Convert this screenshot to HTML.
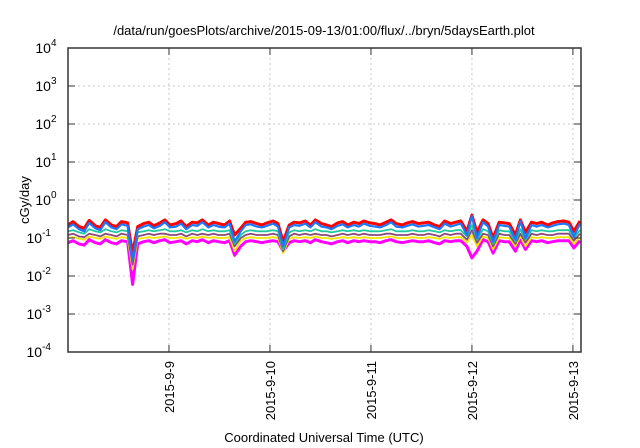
<!DOCTYPE html>
<html><head><meta charset="utf-8"><style>
body{margin:0;background:#fff;}
svg{display:block;font-family:"Liberation Sans",sans-serif;}
</style></head><body>
<svg id="chart" width="640" height="448" viewBox="0 0 640 448">
<rect width="640" height="448" fill="#fff"/>
<text x="324" y="35" text-anchor="middle" font-size="13" fill="#000">/data/run/goesPlots/archive/2015-09-13/01:00/flux/../bryn/5daysEarth.plot</text>
<text transform="translate(29,200) rotate(-90)" text-anchor="middle" font-size="13">cGy/day</text>
<text x="324" y="442" text-anchor="middle" font-size="13">Coordinated Universal Time (UTC)</text>
<g id="grid"></g><g id="series"></g><g id="axes"></g>
</svg>
<script>
const times=[8.00,8.05,8.11,8.16,8.21,8.27,8.32,8.37,8.43,8.48,8.53,8.59,8.64,8.69,8.75,8.80,8.85,8.91,8.96,9.01,9.07,9.12,9.17,9.23,9.28,9.33,9.39,9.44,9.49,9.55,9.60,9.65,9.71,9.76,9.81,9.87,9.92,9.97,10.03,10.08,10.13,10.19,10.24,10.29,10.35,10.40,10.45,10.51,10.56,10.61,10.67,10.72,10.77,10.83,10.88,10.93,10.99,11.04,11.09,11.15,11.20,11.25,11.31,11.36,11.41,11.47,11.52,11.57,11.63,11.68,11.73,11.79,11.84,11.89,11.95,12.00,12.05,12.11,12.16,12.21,12.27,12.32,12.37,12.43,12.48,12.53,12.59,12.64,12.69,12.75,12.80,12.85,12.91,12.96,13.01,13.07];
const xTicks=[9,10,11,12,13];
const xTickLabels=["2015-9-9","2015-9-10","2015-9-11","2015-9-12","2015-9-13"];
const yTickExps=[-4,-3,-2,-1,0,1,2,3,4];
const red=[0.22,0.27,0.20,0.18,0.29,0.21,0.19,0.30, 0.22,0.20,0.27,0.25,0.04,0.20,0.24,0.26, 0.21,0.25,0.30,0.22,0.24,0.28,0.20,0.26, 0.25,0.30,0.22,0.26,0.24,0.22,0.28,0.12, 0.18,0.26,0.27,0.24,0.22,0.25,0.28,0.24, 0.08,0.22,0.26,0.25,0.28,0.22,0.30,0.24, 0.22,0.20,0.25,0.27,0.22,0.26,0.24,0.28, 0.25,0.24,0.22,0.26,0.30,0.24,0.22,0.25, 0.27,0.24,0.25,0.26,0.22,0.20,0.28,0.24, 0.26,0.28,0.15,0.40,0.14,0.30,0.24,0.10, 0.26,0.25,0.24,0.12,0.30,0.14,0.26,0.24, 0.26,0.22,0.25,0.27,0.28,0.26,0.15,0.28];
const blue=[0.19,0.23,0.17,0.15,0.25,0.18,0.16,0.26, 0.19,0.17,0.23,0.21,0.025,0.17,0.20,0.22, 0.18,0.21,0.26,0.19,0.20,0.24,0.17,0.22, 0.21,0.26,0.19,0.22,0.20,0.19,0.24,0.08, 0.15,0.22,0.23,0.20,0.19,0.21,0.24,0.20, 0.06,0.19,0.22,0.21,0.24,0.19,0.26,0.20, 0.19,0.17,0.21,0.23,0.19,0.22,0.20,0.24, 0.21,0.20,0.19,0.22,0.26,0.20,0.19,0.21, 0.23,0.20,0.21,0.22,0.19,0.17,0.24,0.20, 0.22,0.24,0.12,0.38,0.10,0.26,0.20,0.08, 0.22,0.21,0.20,0.09,0.28,0.10,0.22,0.20, 0.22,0.19,0.21,0.23,0.24,0.22,0.11,0.24];
const teal=[0.15,0.16,0.14,0.13,0.17,0.15,0.14,0.17, 0.15,0.14,0.16,0.15,0.025,0.14,0.15,0.16, 0.15,0.16,0.17,0.15,0.15,0.16,0.14,0.16, 0.15,0.17,0.15,0.16,0.15,0.15,0.16,0.07, 0.12,0.15,0.16,0.15,0.15,0.15,0.16,0.15, 0.05,0.14,0.16,0.15,0.16,0.15,0.17,0.15, 0.15,0.14,0.15,0.16,0.15,0.16,0.15,0.16, 0.15,0.15,0.15,0.16,0.17,0.15,0.15,0.15, 0.16,0.15,0.15,0.16,0.15,0.14,0.16,0.15, 0.16,0.16,0.11,0.22,0.09,0.17,0.15,0.07, 0.16,0.15,0.15,0.08,0.17,0.09,0.16,0.15, 0.16,0.15,0.15,0.16,0.16,0.16,0.10,0.16];
const purple=[0.12,0.13,0.11,0.105,0.13,0.12,0.11,0.13, 0.12,0.11,0.13,0.12,0.02,0.11,0.12,0.13, 0.12,0.13,0.13,0.12,0.12,0.13,0.11,0.13, 0.12,0.13,0.12,0.13,0.12,0.12,0.13,0.06, 0.10,0.12,0.13,0.12,0.12,0.12,0.13,0.12, 0.045,0.11,0.13,0.12,0.13,0.12,0.13,0.12, 0.12,0.11,0.12,0.13,0.12,0.13,0.12,0.13, 0.12,0.12,0.12,0.13,0.13,0.12,0.12,0.12, 0.13,0.12,0.12,0.13,0.12,0.11,0.13,0.12, 0.13,0.13,0.09,0.16,0.075,0.13,0.12,0.06, 0.13,0.12,0.12,0.07,0.13,0.075,0.13,0.12, 0.13,0.12,0.12,0.13,0.13,0.13,0.085,0.13];
const yellow=[0.10,0.105,0.095,0.09,0.11,0.10,0.095,0.11, 0.10,0.095,0.105,0.10,0.015,0.095,0.10,0.105, 0.10,0.105,0.11,0.10,0.10,0.105,0.095,0.105, 0.10,0.11,0.10,0.105,0.10,0.10,0.105,0.045, 0.085,0.10,0.105,0.10,0.10,0.10,0.105,0.10, 0.04,0.095,0.105,0.10,0.105,0.10,0.11,0.10, 0.10,0.095,0.10,0.105,0.10,0.105,0.10,0.105, 0.10,0.10,0.10,0.105,0.11,0.10,0.10,0.10, 0.105,0.10,0.10,0.105,0.10,0.095,0.105,0.10, 0.105,0.105,0.075,0.12,0.06,0.11,0.10,0.05, 0.105,0.10,0.10,0.06,0.11,0.06,0.105,0.10, 0.105,0.10,0.10,0.105,0.105,0.105,0.07,0.105];
const magenta=[0.075,0.085,0.07,0.065,0.09,0.075,0.07,0.09, 0.075,0.07,0.085,0.08,0.006,0.07,0.08,0.085, 0.075,0.085,0.09,0.075,0.08,0.085,0.07,0.085, 0.08,0.09,0.075,0.085,0.08,0.075,0.085,0.035, 0.06,0.08,0.085,0.08,0.075,0.08,0.085,0.08, 0.045,0.075,0.085,0.08,0.085,0.075,0.09,0.08, 0.075,0.07,0.08,0.085,0.075,0.085,0.08,0.085, 0.08,0.08,0.075,0.085,0.09,0.08,0.075,0.08, 0.085,0.08,0.08,0.085,0.075,0.07,0.085,0.08, 0.085,0.085,0.06,0.03,0.045,0.09,0.08,0.04, 0.085,0.08,0.08,0.045,0.09,0.05,0.085,0.08, 0.085,0.075,0.08,0.085,0.085,0.085,0.055,0.085];

const L=68,R=581,T=48,B=352,X0=8,X1=13.08;
const NS="http://www.w3.org/2000/svg";
function xs(v){return L+(v-X0)/(X1-X0)*(R-L);}
function ys(v){return B-(Math.log10(v)+4)/8*(B-T);}
function mk(tag,attrs,parent){const e=document.createElementNS(NS,tag);for(const k in attrs)e.setAttribute(k,attrs[k]);parent.appendChild(e);return e;}
const grid=document.getElementById('grid'),axes=document.getElementById('axes'),ser=document.getElementById('series');
yTickExps.forEach(function(p){
  const y=ys(Math.pow(10,p));
  if(p>-4&&p<4){const g=mk('line',{x1:L,x2:R,y1:y,y2:y,stroke:'#c8c8c8','stroke-dasharray':'2,3','stroke-width':1},grid);
  
  }
  const t1=mk('line',{x1:L,x2:L+7,y1:y,y2:y,stroke:'#333'},axes);
  
  
  const t2=mk('line',{x1:R-7,x2:R,y1:y,y2:y,stroke:'#333'},axes);
  
  
  const tx=mk('text',{x:L-8,y:y+5,'text-anchor':'end','font-size':14},axes);
  
  
  tx.textContent='10';
  const sp=mk('tspan',{dy:-7,'font-size':10},tx);sp.textContent=String(p);
  tx.setAttribute('x',L-6-String(p).length*5.5);
});
xTicks.forEach(function(d,i){
  const x=xs(d);
  const g=mk('line',{x1:x,x2:x,y1:T,y2:B,stroke:'#c8c8c8','stroke-dasharray':'2,3'},grid);
  
  
  const t1=mk('line',{x1:x,x2:x,y1:B-7,y2:B,stroke:'#333'},axes);
  
  
  const t2=mk('line',{x1:x,x2:x,y1:T,y2:T+7,stroke:'#333'},axes);
  
  
  const tx=mk('text',{transform:'translate('+(x+5)+','+(B+9)+') rotate(-90)','text-anchor':'end','font-size':13},axes);
  
  
  tx.textContent=xTickLabels[i];
});
const fr=mk('rect',{x:L,y:T,width:R-L,height:B-T,fill:'none',stroke:'#333','stroke-width':1.5},axes);


const defs=[[magenta,'#ff00ff',3,'series-magenta'],[yellow,'#f2e600',1.8,'series-yellow'],[purple,'#8a4a7a',1.8,'series-purple'],[teal,'#1fc8a0',1.8,'series-teal'],[red,'#ff0000',3,'series-red'],[blue,'#1a78ff',2.2,'series-blue']];
defs.forEach(function(s){
  const d=s[0].map(function(v,i){return (i?'L':'M')+xs(times[i]).toFixed(1)+','+ys(v).toFixed(1);}).join('');
  const p=mk('path',{d:d,fill:'none',stroke:s[1],'stroke-width':s[2],'stroke-linejoin':'round'},ser);
  
  
});
</script>
</body></html>
